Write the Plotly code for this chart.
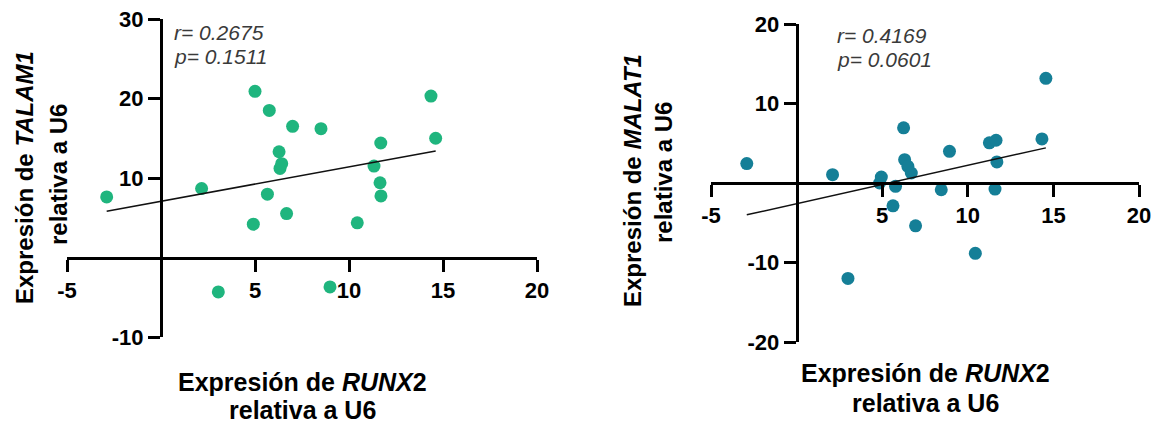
import plotly.graph_objects as go

# ---------------- data ----------------
runx2_left = [-2.89, 2.16, 3.05, 4.91, 5.0, 5.66, 5.76, 6.28, 6.33, 6.42, 6.68, 7.0,
              8.51, 8.99, 10.44, 11.33, 11.65, 11.69, 11.70, 14.36, 14.61]
talam1 = [7.62, 8.68, -4.33, 4.19, 20.9, 7.96, 18.5, 13.3, 11.2, 11.8, 5.53, 16.5,
          16.2, -3.7, 4.36, 11.5, 9.4, 14.4, 7.75, 20.3, 15.0]
fit_left_x = [-2.89, 14.61]
fit_left_y = [5.82, 13.4]

runx2_right = [-2.91, 2.10, 3.0, 4.85, 4.95, 5.63, 5.78, 6.25, 6.31, 6.5, 6.70, 6.95,
               8.45, 8.93, 10.44, 11.26, 11.59, 11.65, 11.70, 14.33, 14.56]
malat1 = [2.44, 1.05, -12.0, 0.0, 0.75, -2.87, -0.42, 6.94, 2.94, 2.1, 1.26, -5.39,
          -0.85, 3.99, -8.84, 5.05, -0.76, 5.38, 2.65, 5.55, 13.17]
fit_right_x = [-2.91, 14.56]
fit_right_y = [-4.0, 4.42]

x_ticks = [-5, 5, 10, 15, 20]
x_tick_labels = ["-5", "5", "10", "15", "20"]
y_ticks_left = [-10, 10, 20, 30]
y_tick_labels_left = ["-10", "10", "20", "30"]
y_ticks_right = [-20, -10, 10, 20]
y_tick_labels_right = ["-20", "-10", "10", "20"]
stats_left = ["r= 0.2675", "p= 0.1511"]
stats_right = ["r= 0.4169", "p= 0.0601"]

# ---------------- layout constants ----------------
W, H = 1158, 429
FONT = "Liberation Sans, Arial, sans-serif"
GREEN = "#1fb57e"
TEAL = "#157f97"

def px_x(p):
    return p / W

def px_y(p):
    return 1 - p / H

# domains from pixel extents
L_x = [px_x(67), px_x(537)]
L_y = [px_y(337), px_y(19)]
R_x = [px_x(711), px_x(1139)]
R_y = [px_y(342), px_y(24)]
L_xr, L_yr = [-5, 20], [-10, 30]
R_xr, R_yr = [-5, 20], [-20, 20]

def zero_pos(dom, rng):
    return dom[0] + (0 - rng[0]) / (rng[1] - rng[0]) * (dom[1] - dom[0])

fig = go.Figure()

fig.add_trace(go.Scatter(x=runx2_left, y=talam1, mode="markers",
                         marker=dict(size=13, color=GREEN), xaxis="x", yaxis="y",
                         showlegend=False))
fig.add_trace(go.Scatter(x=fit_left_x, y=fit_left_y, mode="lines",
                         line=dict(color="#111111", width=1.5), xaxis="x", yaxis="y",
                         showlegend=False))
fig.add_trace(go.Scatter(x=runx2_right, y=malat1, mode="markers",
                         marker=dict(size=13, color=TEAL), xaxis="x2", yaxis="y2",
                         showlegend=False))
fig.add_trace(go.Scatter(x=fit_right_x, y=fit_right_y, mode="lines",
                         line=dict(color="#111111", width=1.5), xaxis="x2", yaxis="y2",
                         showlegend=False))

tickfont = dict(family=FONT, size=22, color="black", weight="bold")
axis_common = dict(showgrid=False, zeroline=False, showline=True, linecolor="black",
                   linewidth=3, ticks="outside", ticklen=12, tickwidth=3,
                   tickcolor="black", tickfont=tickfont, fixedrange=True,
                   automargin=False)

fig.update_layout(
    width=W, height=H, margin=dict(l=0, r=0, t=0, b=0, pad=0, autoexpand=False),
    paper_bgcolor="white", plot_bgcolor="white",
    xaxis=dict(domain=L_x, range=L_xr, tickvals=x_ticks, ticktext=x_tick_labels,
               anchor="free", position=zero_pos(L_y, L_yr), **axis_common),
    yaxis=dict(domain=L_y, range=L_yr, tickvals=y_ticks_left, ticktext=y_tick_labels_left,
               anchor="free", position=zero_pos(L_x, L_xr), **axis_common),
    xaxis2=dict(domain=R_x, range=R_xr, tickvals=x_ticks, ticktext=x_tick_labels,
                anchor="free", position=zero_pos(R_y, R_yr), **axis_common),
    yaxis2=dict(domain=R_y, range=R_yr, tickvals=y_ticks_right, ticktext=y_tick_labels_right,
                anchor="free", position=zero_pos(R_x, R_xr), **axis_common),
)

xtitle_font = dict(family=FONT, size=25, color="black", weight="bold")
ytitle_font = dict(family=FONT, size=24, color="black", weight="bold")
stat_font = dict(family=FONT, size=21, color="#3a3a3a")

ann = []
# x-axis titles
ann.append(dict(text="Expresión de <i>RUNX</i>2", x=px_x(302), y=px_y(382), font=xtitle_font))
ann.append(dict(text="relativa a U6", x=px_x(302), y=px_y(410), font=xtitle_font))
ann.append(dict(text="Expresión de <i>RUNX</i>2", x=px_x(925), y=px_y(373), font=xtitle_font))
ann.append(dict(text="relativa a U6", x=px_x(925), y=px_y(403), font=xtitle_font))
# y-axis titles
ann.append(dict(text="Expresión de <i>TALAM1</i>", x=px_x(25), y=px_y(178), font=ytitle_font, textangle=-90))
ann.append(dict(text="relativa a U6", x=px_x(58), y=px_y(175), font=ytitle_font, textangle=-90))
ann.append(dict(text="Expresión de <i>MALAT1</i>", x=px_x(632), y=px_y(181), font=ytitle_font, textangle=-90))
ann.append(dict(text="relativa a U6", x=px_x(663), y=px_y(173), font=ytitle_font, textangle=-90))
# statistics
ann.append(dict(text="<i>" + stats_left[0] + "</i>", x=px_x(172), y=px_y(32), font=stat_font, xanchor="left"))
ann.append(dict(text="<i>" + stats_left[1] + "</i>", x=px_x(172), y=px_y(56), font=stat_font, xanchor="left"))
ann.append(dict(text="<i>" + stats_right[0] + "</i>", x=px_x(835), y=px_y(35), font=stat_font, xanchor="left"))
ann.append(dict(text="<i>" + stats_right[1] + "</i>", x=px_x(835), y=px_y(59), font=stat_font, xanchor="left"))

for a in ann:
    a.setdefault("xanchor", "center")
    a.setdefault("yanchor", "middle")
    a.update(xref="paper", yref="paper", showarrow=False)
fig.update_layout(annotations=ann)

fig.write_html("out.html", config={"displayModeBar": False},
               post_script="document.body.style.margin='0px';document.body.style.overflow='hidden';")
